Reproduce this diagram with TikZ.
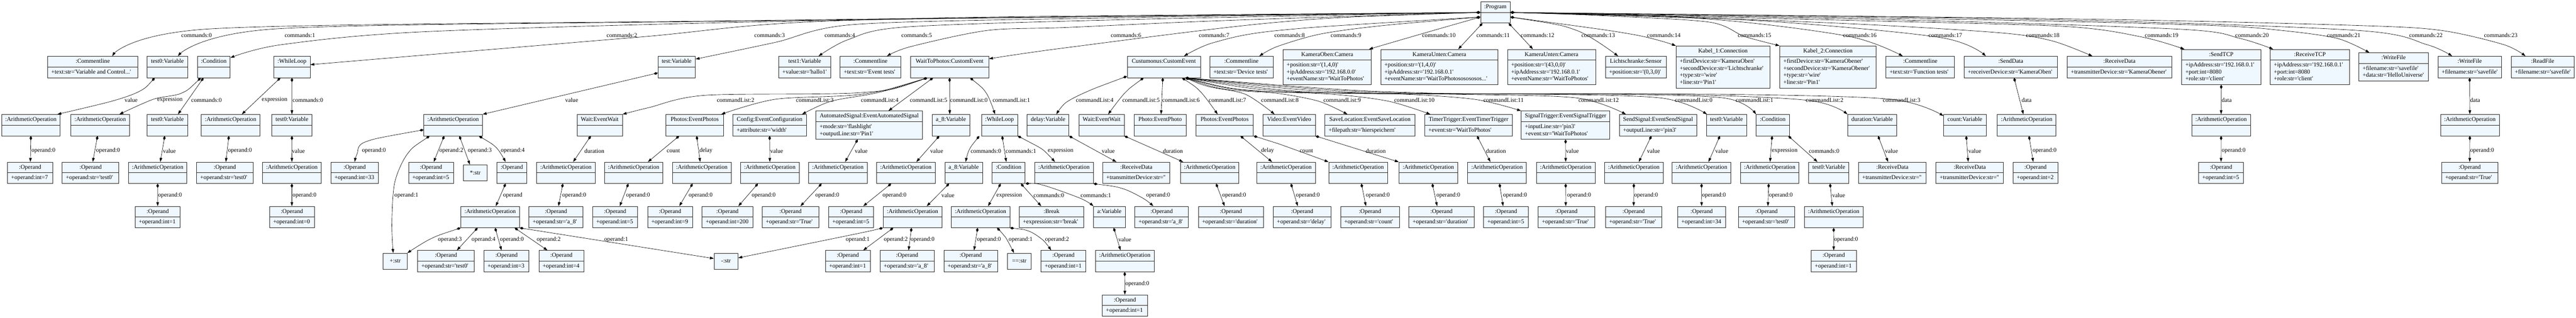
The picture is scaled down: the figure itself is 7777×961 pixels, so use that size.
\documentclass[tikz,border=0pt]{standalone}
\usepackage{fontspec}
\usepackage{tikz}
\usetikzlibrary{arrows.meta}
\usetikzlibrary{calc}
\usetikzlibrary{shapes.multipart}
\newfontfamily\gvfont{Liberation Serif}
\definecolor{gvfill}{HTML}{F0F8FF}
\newcommand{\gvs}{\rule[-2.9pt]{0pt}{10pt}}
\newcommand{\gvarith}{\gvs:ArithmeticOperation\nodepart{two}\gvs}
\newcommand{\gvoperand}[1]{\gvs:Operand\nodepart{two}\gvs+operand:#1}
\newcommand{\gvrecv}{\gvs:ReceiveData\nodepart{two}\gvs+transmitterDevice:str=''}
\tikzset{obj/.style = {draw=black!85, line width=0.6pt, fill=gvfill,
                       rectangle split, rectangle split parts=2,
                       rectangle split part align={center,left}, align=left,
                       inner xsep=5.5pt, inner ysep=2.75pt,
                       font=\gvfont\fontsize{9}{10.5}\selectfont}}
\tikzset{bw/.style = {minimum width=#1*0.5pt}}
\tikzset{strbox/.style = {draw=black!85, line width=0.6pt, fill=gvfill,
                          minimum width=36pt, minimum height=24pt, inner sep=0pt,
                          font=\gvfont\fontsize{9}{10.5}\selectfont}}
\tikzset{lbl/.style = {anchor=west, inner sep=0pt,
                       font=\gvfont\fontsize{9}{10.5}\selectfont}}
\tikzset{comp/.style = {line width=0.5pt,
                        {Diamond[length=6.5pt,width=4pt]}-{Triangle[length=6pt,width=4pt]}}}

\begin{document}
\begin{tikzpicture}[x=0.5pt, y=-0.5pt]
    \useasboundingbox (0,0) rectangle (7777,961);

    \node [obj, bw=89] (prog) at (4514.5,37.5) {\gvs:Program\nodepart{two}\gvs};

    \node [obj, bw=272] (c0) at (280,202.5) {\gvs:Commentline\nodepart{two}\gvs+text:str='Variable and Control...'};
    \node [obj, bw=121.5] (c1) at (505.3,202.5) {\gvs test0:Variable\nodepart{two}\gvs};
    \node [obj, bw=99.4] (c2) at (645.3,202.5) {\gvs:Condition\nodepart{two}\gvs};
    \node [obj, bw=109.8] (c3) at (881.4,202.5) {\gvs:WhileLoop\nodepart{two}\gvs};
    \node [obj, bw=112.8] (c4) at (2042.9,202.5) {\gvs test:Variable\nodepart{two}\gvs};
    \node [obj, bw=156.6] (c5) at (2429.3,202.5) {\gvs test1:Variable\nodepart{two}\gvs+value:str='hallo1'};
    \node [obj, bw=182.4] (c6) at (2627.8,202.5) {\gvs:Commentline\nodepart{two}\gvs+text:str='Event tests'};
    \node [obj, bw=236.4] (c7) at (2866.8,202.5) {\gvs WaitToPhotos:CustomEvent\nodepart{two}\gvs};
    \node [obj, bw=221] (c8) at (3513.5,202.5) {\gvs Custumonus:CustomEvent\nodepart{two}\gvs};
    \node [obj, bw=191.6] (c9) at (3747.8,202.5) {\gvs:Commentline\nodepart{two}\gvs+text:str='Device tests'};
    \node [obj, bw=266.5] (c10) at (4006.8,202.5) {\gvs KameraOben:Camera\nodepart{two}\gvs+position:str='(1,4,0)'\\\gvs+ipAddress:str='192.168.0.0'\\\gvs+eventName:str='WaitToPhotos'};
    \node [obj, bw=353.4] (c11) at (4345.3,202.5) {\gvs KameraUnten:Camera\nodepart{two}\gvs+position:str='(1,4,0)'\\\gvs+ipAddress:str='192.168.0.1'\\\gvs+eventName:str='WaitToPhotososososos...'};
    \node [obj, bw=266] (c12) at (4684,202.5) {\gvs KameraUnten:Camera\nodepart{two}\gvs+position:str='(43,0,0)'\\\gvs+ipAddress:str='192.168.0.1'\\\gvs+eventName:str='WaitToPhotos'};
    \node [obj, bw=183] (c13) at (4938.5,202.5) {\gvs Lichtschranke:Sensor\nodepart{two}\gvs+position:str='(0,3,0)'};
    \node [obj, bw=283] (c14) at (5201.5,202.5) {\gvs Kabel\_1:Connection\nodepart{two}\gvs+firstDevice:str='KameraOben'\\\gvs+secondDevice:str='Lichtschranke'\\\gvs+type:str='wire'\\\gvs+line:str='Pin1'};
    \node [obj, bw=291] (c15) at (5518.5,202.5) {\gvs Kabel\_2:Connection\nodepart{two}\gvs+firstDevice:str='KameraObener'\\\gvs+secondDevice:str='KameraObener'\\\gvs+type:str='wire'\\\gvs+line:str='Pin1'};
    \node [obj, bw=206.7] (c16) at (5797.4,202.5) {\gvs:Commentline\nodepart{two}\gvs+text:str='Function tests'};
    \node [obj, bw=281] (c17) at (6070.5,202.5) {\gvs:SendData\nodepart{two}\gvs+receiverDevice:str='KameraOben'};
    \node [obj, bw=315] (c18) at (6398.5,202.5) {\gvs:ReceiveData\nodepart{two}\gvs+transmitterDevice:str='KameraObener'};
    \node [obj, bw=238.5] (c19) at (6705.8,202.5) {\gvs:SendTCP\nodepart{two}\gvs+ipAddress:str='192.168.0.1'\\\gvs+port:int=8080\\\gvs+role:str='client'};
    \node [obj, bw=239] (c20) at (6973.5,202.5) {\gvs:ReceiveTCP\nodepart{two}\gvs+ipAddress:str='192.168.0.1'\\\gvs+port:int=8080\\\gvs+role:str='client'};
    \node [obj, bw=209.4] (c21) at (7226.3,202.5) {\gvs:WriteFile\nodepart{two}\gvs+filename:str='savefile'\\\gvs+data:str='HelloUniverse'};
    \node [obj, bw=190.3] (c22) at (7455.9,202.5) {\gvs:WriteFile\nodepart{two}\gvs+filename:str='savefile'};
    \node [obj, bw=190.5] (c23) at (7676.3,202.5) {\gvs:ReadFile\nodepart{two}\gvs+filename:str='savefile'};

    \node [obj, bw=176.4] (a1) at (93.2,378.3) {\gvarith};
    \node [obj, bw=177] (a2) at (302.5,378.3) {\gvarith};
    \node [obj, bw=121.5] (a3) at (505.3,378.3) {\gvs test0:Variable\nodepart{two}\gvs};
    \node [obj, bw=176] (a4) at (696,378.3) {\gvarith};
    \node [obj, bw=121.4] (a5) at (881.3,378.3) {\gvs test0:Variable\nodepart{two}\gvs};
    \node [obj, bw=176] (a6) at (1368,378.3) {\gvarith};
    \node [obj, bw=137] (a7) at (1810.5,378.3) {\gvs Wait:EventWait\nodepart{two}\gvs};
    \node [obj, bw=173.5] (a8) at (2097.3,378.3) {\gvs Photos:EventPhotos\nodepart{two}\gvs};
    \node [obj, bw=221] (a9) at (2323.5,378.3) {\gvs Config:EventConfiguration\nodepart{two}\gvs+attribute:str='width'};
    \node [obj, bw=321.6] (a10) at (2624.2,378.3) {\gvs AutomatedSignal:EventAutomatedSignal\nodepart{two}\gvs+mode:str='flashlight'\\\gvs+outputLine:str='Pin1'};
    \node [obj, bw=113.5] (a11) at (2870.8,378.3) {\gvs a\_8:Variable\nodepart{two}\gvs};
    \node [obj, bw=109] (a12) at (3017.5,378.3) {\gvs:WhileLoop\nodepart{two}\gvs};
    \node [obj, bw=126] (a13) at (3164,378.3) {\gvs delay:Variable\nodepart{two}\gvs};
    \node [obj, bw=137] (a14) at (3325.5,378.3) {\gvs Wait:EventWait\nodepart{two}\gvs};
    \node [obj, bw=157.5] (a15) at (3502.3,378.3) {\gvs Photo:EventPhoto\nodepart{two}\gvs};
    \node [obj, bw=174] (a16) at (3697,378.3) {\gvs Photos:EventPhotos\nodepart{two}\gvs};
    \node [obj, bw=157.8] (a17) at (3892,378.3) {\gvs Video:EventVideo\nodepart{two}\gvs};
    \node [obj, bw=272] (a18) at (4136,378.3) {\gvs SaveLocation:EventSaveLocation\nodepart{two}\gvs+filepath:str='hierspeichern'};
    \node [obj, bw=263.4] (a19) at (4433.3,378.3) {\gvs TimerTrigger:EventTimerTrigger\nodepart{two}\gvs+event:str='WaitToPhotos'};
    \node [obj, bw=265] (a20) at (4726.5,378.3) {\gvs SignalTrigger:EventSignalTrigger\nodepart{two}\gvs+inputLine:str='pin3'\\\gvs+event:str='WaitToPhotos'};
    \node [obj, bw=233] (a21) at (5005.5,378.3) {\gvs SendSignal:EventSendSignal\nodepart{two}\gvs+outputLine:str='pin3'};
    \node [obj, bw=120.5] (a22) at (5212.3,378.3) {\gvs test0:Variable\nodepart{two}\gvs};
    \node [obj, bw=100] (a23) at (5352,378.3) {\gvs:Condition\nodepart{two}\gvs};
    \node [obj, bw=148] (a24) at (5652,378.3) {\gvs duration:Variable\nodepart{two}\gvs};
    \node [obj, bw=128] (a25) at (5932,378.3) {\gvs count:Variable\nodepart{two}\gvs};
    \node [obj, bw=177] (a26) at (6118.5,378.3) {\gvarith};
    \node [obj, bw=177] (a27) at (6705.5,378.3) {\gvarith};
    \node [obj, bw=177] (a28) at (7456.5,378.3) {\gvarith};

    \node [obj, bw=136] (b1) at (90.7,522.3) {\gvoperand{int=7}};
    \node [obj, bw=171] (b2) at (273.5,522.3) {\gvoperand{str='test0'}};
    \node [obj, bw=176.3] (b3) at (475.9,522.3) {\gvarith};
    \node [obj, bw=170.5] (b4) at (678.8,522.3) {\gvoperand{str='test0'}};
    \node [obj, bw=176.8] (b5) at (881.2,522.3) {\gvarith};
    \node [obj, bw=144.4] (b6) at (1070.8,522.3) {\gvoperand{int=33}};
    \node [obj, bw=135.5] (b7) at (1301.3,522.3) {\gvoperand{int=5}};
    \node [strbox] (b8) at (1434.7,522.3) {*:str};
    \node [obj, bw=90.6] (b9) at (1545.3,522.3) {\gvs:Operand\nodepart{two}\gvs};
    \node [obj, bw=176.5] (b10) at (1708.3,522.3) {\gvarith};
    \node [obj, bw=176] (b11) at (1913,522.3) {\gvarith};
    \node [obj, bw=176.3] (b12) at (2118.9,522.3) {\gvarith};
    \node [obj, bw=176.8] (b13) at (2324.1,522.3) {\gvarith};
    \node [obj, bw=176.7] (b14) at (2529.4,522.3) {\gvarith};
    \node [obj, bw=177] (b15) at (2734.5,522.3) {\gvarith};
    \node [obj, bw=113.5] (b16) at (2909.3,522.3) {\gvs a\_8:Variable\nodepart{two}\gvs};
    \node [obj, bw=100] (b17) at (3045,522.3) {\gvs:Condition\nodepart{two}\gvs};
    \node [obj, bw=176] (b18) at (3212,522.3) {\gvarith};
    \node [obj, bw=203] (b19) at (3430.5,522.3) {\gvrecv};
    \node [obj, bw=176] (b20) at (3652,522.3) {\gvarith};
    \node [obj, bw=176.8] (b21) at (3882.4,522.3) {\gvarith};
    \node [obj, bw=176] (b22) at (4100,522.3) {\gvarith};
    \node [obj, bw=176] (b23) at (4312,522.3) {\gvarith};
    \node [obj, bw=177] (b24) at (4519.5,522.3) {\gvarith};
    \node [obj, bw=176.5] (b25) at (4726.8,522.3) {\gvarith};
    \node [obj, bw=177] (b26) at (4932.5,522.3) {\gvarith};
    \node [obj, bw=176] (b27) at (5137,522.3) {\gvarith};
    \node [obj, bw=176.6] (b28) at (5342.7,522.3) {\gvarith};
    \node [obj, bw=122] (b29) at (5521,522.3) {\gvs test0:Variable\nodepart{two}\gvs};
    \node [obj, bw=204] (b30) at (5713,522.3) {\gvrecv};
    \node [obj, bw=203.8] (b31) at (5946.6,522.3) {\gvrecv};
    \node [obj, bw=135.5] (b32) at (6145.3,522.3) {\gvoperand{int=2}};
    \node [obj, bw=135.5] (b33) at (6705.3,522.3) {\gvoperand{int=5}};
    \node [obj, bw=170] (b34) at (7456,522.3) {\gvoperand{str='True'}};

    \node [obj, bw=136] (d1) at (476,656) {\gvoperand{int=1}};
    \node [obj, bw=135.6] (d2) at (881.2,656) {\gvoperand{int=0}};
    \node [obj, bw=176.5] (d3) at (1479.8,656) {\gvarith};
    \node [obj, bw=163] (d4) at (1678.5,656) {\gvoperand{str='a\_8'}};
    \node [obj, bw=136] (d5) at (1857,656) {\gvoperand{int=5}};
    \node [obj, bw=135.5] (d6) at (2022.8,656) {\gvoperand{int=9}};
    \node [obj, bw=153.2] (d7) at (2196.1,656) {\gvoperand{int=200}};
    \node [obj, bw=171] (d8) at (2386.5,656) {\gvoperand{str='True'}};
    \node [obj, bw=135] (d9) at (2569.5,656) {\gvoperand{int=5}};
    \node [obj, bw=176.5] (d10) at (2754.8,656) {\gvarith};
    \node [obj, bw=176] (d11) at (2960,656) {\gvarith};
    \node [obj, bw=195] (d12) at (3174.5,656) {\gvs:Break\nodepart{two}\gvs+expression:str='break'};
    \node [obj, bw=94.6] (d13) at (3349.3,656) {\gvs a:Variable\nodepart{two}\gvs};
    \node [obj, bw=162] (d14) at (3507,656) {\gvoperand{str='a\_8'}};
    \node [obj, bw=196] (d15) at (3716,656) {\gvoperand{str='duration'}};
    \node [obj, bw=174] (d16) at (3931,656) {\gvoperand{str='delay'}};
    \node [obj, bw=177.6] (d17) at (4135.8,656) {\gvoperand{str='count'}};
    \node [obj, bw=196.4] (d18) at (4351.8,656) {\gvoperand{str='duration'}};
    \node [obj, bw=135] (d19) at (4546.5,656) {\gvoperand{int=5}};
    \node [obj, bw=170] (d20) at (4729,656) {\gvoperand{str='True'}};
    \node [obj, bw=170] (d21) at (4932,656) {\gvoperand{str='True'}};
    \node [obj, bw=144.4] (d22) at (5137.2,656) {\gvoperand{int=34}};
    \node [obj, bw=170.6] (d23) at (5333.3,656) {\gvoperand{str='test0'}};
    \node [obj, bw=176.4] (d24) at (5535.8,656) {\gvarith};

    \node [strbox] (e1) at (1193,789.5) {+:str};
    \node [obj, bw=170.5] (e2) at (1346.3,789.5) {\gvoperand{str='test0'}};
    \node [obj, bw=136] (e3) at (1529,789.5) {\gvoperand{int=3}};
    \node [obj, bw=135.5] (e4) at (1694.8,789.5) {\gvoperand{int=4}};
    \node [strbox] (e5) at (2191.9,789.5) {-:str};
    \node [obj, bw=135] (e6) at (2559.5,789.5) {\gvoperand{int=1}};
    \node [obj, bw=163] (e7) at (2738.5,789.5) {\gvoperand{str='a\_8'}};
    \node [obj, bw=162.1] (e8) at (2930.7,789.5) {\gvoperand{str='a\_8'}};
    \node [strbox] (e9) at (3077.3,789.5) {==:str};
    \node [obj, bw=135] (e10) at (3210.5,789.5) {\gvoperand{int=1}};
    \node [obj, bw=177] (e11) at (3395.5,789.5) {\gvarith};
    \node [obj, bw=136] (e12) at (5536,789.5) {\gvoperand{int=1}};

    \node [obj, bw=136] (f1) at (3396,923.7) {\gvoperand{int=1}};

    \draw [comp] plot [smooth] coordinates {(prog.west) (2198,63) (639,87) ($(c0.north)+(59,0)$)};
    \draw [comp] plot [smooth] coordinates {(prog.west) (2306,63) (837,87) ($(c1.north)+(32,0)$)};
    \draw [comp] plot [smooth] coordinates {(prog.west) (2500,62) (1300,95) (850,135) ($(c2.north east)+(0,5)$)};
    \draw [comp] plot [smooth] coordinates {(prog.west) (2580,61) (1920,113) ($(c3.east)+(0,-7)$)};
    \draw [comp] plot [smooth] coordinates {(prog.west) (3300,55) (2580,74) (2341,128) ($(c4.north east)+(0,9)$)};
    \draw [comp] plot [smooth] coordinates {(prog.west) (3371,60) (2728,82) (2560,120) ($(c5.north)+(42,0)$)};
    \draw [comp] plot [smooth] coordinates {(prog.west) (3700,62) (3220,83) (2981,92) (2749,141) ($(c6.north)+(50,0)$)};
    \draw [comp] plot [smooth] coordinates {(prog.west) (3860,67) (3220,144) ($(c7.north east)+(0,8)$)};
    \draw [comp] plot [smooth] coordinates {($(prog.west)+(0,14)$) (3860,92) (3663,129) ($(c8.north)+(61,0)$)};
    \draw [comp] plot [smooth] coordinates {($(prog.west)+(0,14)$) (4150,80) (3981,104) (3855,141) ($(c9.north)+(54,0)$)};
    \draw [comp] plot [smooth] coordinates {($(prog.west)+(0,14)$) (4300,100) ($(c10.north)+(126,0)$)};
    \draw [comp] ($(prog.south west)+(6,0)$) -- ($(c11.north)+(57,0)$);
    \draw [comp] ($(prog.south east)+(-5,0)$) -- ($(c12.north)+(-56,0)$);
    \draw [comp] plot [smooth] coordinates {($(prog.east)+(0,14)$) (4760,92) ($(c13.north)+(-53.5,0)$)};
    \draw [comp] plot [smooth] coordinates {($(prog.east)+(0,14)$) (4929,104) (c14.north west)};
    \draw [comp] plot [smooth] coordinates {(prog.east) (4850,48) (5161,67) (5266,110) (c15.north west)};
    \draw [comp] plot [smooth] coordinates {(prog.east) (5161,58) (5582,110) ($(c16.north)+(-53,0)$)};
    \draw [comp] plot [smooth] coordinates {(prog.east) (5300,62) (5856,113) ($(c17.north)+(-75.5,0)$)};
    \draw [comp] plot [smooth] coordinates {(prog.east) (5500,68) (6024,98) (6193,123) ($(c18.north)+(-81.5,0)$)};
    \draw [comp] plot [smooth] coordinates {(prog.east) (5600,62) (6235,80) (6467,112) ($(c19.north)+(-111,0)$)};
    \draw [comp] plot [smooth] coordinates {(prog.east) (5800,62) (6593,89) (6762,116) ($(c20.north)+(-110.5,0)$)};
    \draw [comp] plot [smooth] coordinates {(prog.east) (6000,60) (6677,77) (6888,92) (7056,116) ($(c21.north)+(-73,0)$)};
    \draw [comp] plot [smooth] coordinates {(prog.east) (6200,60) (7117,92) (7327,135) ($(c22.north)+(-53,0)$)};
    \draw [comp] plot [smooth] coordinates {(prog.east) (6300,58) (7117,77) (7370,92) (7559,135) ($(c23.north)+(-52,0)$)};

    \draw [comp] plot [smooth] coordinates {($(c1.south)+(-38,0)$) (421,276) (337,306) ($(a1.north)+(80,0)$)};
    \draw [comp] plot [smooth] coordinates {($(c2.south)+(-39,0)$) (547,282) (463,300) ($(a2.north)+(58,0)$)};
    \draw [comp] ($(c2.south)+(-31,0)$) -- ($(a3.north)+(32,0)$);
    \draw [comp] ($(c3.south)+(-35,0)$) -- ($(a4.north)+(34,0)$);
    \draw [comp] (c3.south) -- (a5.north);
    \draw [comp] ($(c4.west)+(0,18)$) -- (a6.north east);
    \draw [comp] plot [smooth] coordinates {($(c7.south)+(-67,0)$) (2600,280) (2130,288) (1960,325) (a7.north east)};
    \draw [comp] plot [smooth] coordinates {($(c7.south)+(-67,0)$) (2600,285) (2341,300) ($(a8.north)+(80,0)$)};
    \draw [comp] plot [smooth] coordinates {($(c7.south)+(-67,0)$) (2650,280) (2509,306) ($(a9.north)+(98,0)$)};
    \draw [comp] ($(c7.south)+(-50,0)$) -- ($(a10.north)+(58,0)$);
    \draw [comp] (c7.south) -- ($(a11.north)+(-3.5,0)$);
    \draw [comp] plot [smooth] coordinates {($(c7.south)+(62,0)$) (2978,282) ($(a12.north)+(-13.5,0)$)};
    \draw [comp] plot [smooth] coordinates {($(c8.west)+(0,28)$) (3284,276) (3218,310) ($(a13.north)+(25,0)$)};
    \draw [comp] plot [smooth] coordinates {($(c8.south)+(-61,0)$) (3395,282) ($(a14.north)+(20,0)$)};
    \draw [comp] ($(c8.south)+(-3,0)$) -- ($(a15.north)+(3,0)$);
    \draw [comp] plot [smooth] coordinates {($(c8.south)+(55,0)$) (3625,278) ($(a16.north)+(-21,0)$)};
    \draw [comp] plot [smooth] coordinates {($(c8.south)+(65,0)$) (3650,262) (3760,285) ($(a17.north)+(-44,0)$)};
    \draw [comp] plot [smooth] coordinates {($(c8.south)+(65,0)$) (3700,270) (3855,282) (3981,306) ($(a18.north)+(-68,0)$)};
    \draw [comp] plot [smooth] coordinates {($(c8.south)+(65,0)$) (3750,272) (4023,285) (4192,306) ($(a19.north)+(-115,0)$)};
    \draw [comp] plot [smooth] coordinates {($(c8.south)+(65,0)$) (3800,275) (4200,283) (4450,300) (a20.north west)};
    \draw [comp] plot [smooth] coordinates {($(c8.south)+(65,0)$) (3900,277) (4400,285) (4760,296) ($(a21.north)+(-97,0)$)};
    \draw [comp] plot [smooth] coordinates {($(c8.south)+(65,0)$) (4000,280) (4600,284) (5013,296) ($(a22.north west)+(2,0)$)};
    \draw [comp] plot [smooth] coordinates {($(c8.south)+(65,0)$) (4100,280) (4800,284) (5203,296) (a23.north west)};
    \draw [comp] plot [smooth] coordinates {($(c8.south)+(65,0)$) (4200,280) (5000,284) (5456,303) (a24.north west)};
    \draw [comp] plot [smooth] coordinates {($(c8.south)+(65,0)$) (4300,281) (5200,285) (5708,300) ($(a25.north west)+(0,5)$)};
    \draw [comp] ($(c17.south)+(10,0)$) -- ($(a26.north)+(-10,0)$);
    \draw [comp] (c19.south) -- (a27.north);
    \draw [comp] (c22.south) -- (a28.north);

    \draw [comp] (a1.south) -- ($(b1.north)+(1,0)$);
    \draw [comp] ($(a2.south)+(-8,0)$) -- ($(b2.north)+(6.5,0)$);
    \draw [comp] ($(a3.south)+(-8,0)$) -- ($(b3.north)+(8,0)$);
    \draw [comp] ($(a4.south)+(-5,0)$) -- ($(b4.north)+(3,0)$);
    \draw [comp] (a5.south) -- (b5.north);
    \draw [comp] plot [smooth] coordinates {($(a6.west)+(0,14)$) (1103,429) (1078,465) (b6.north)};
    \draw [comp] plot [smooth] coordinates {($(a6.south)+(-71,0)$) (1229.5,466) (1191.6,552) (1183,674) ($(e1.north)+(-6,0)$)};
    \draw [comp] ($(a6.south)+(-27,0)$) -- ($(b7.north)+(8,0)$);
    \draw [comp] ($(a6.south)+(19,0)$) -- ($(b8.north)+(-16,0)$);
    \draw [comp] plot [smooth] coordinates {($(a6.south)+(78,0)$) (1499,447) ($(b9.north)+(-19,0)$)};
    \draw [comp] ($(a7.south)+(-27,0)$) -- ($(b10.north)+(22,0)$);
    \draw [comp] ($(a8.south)+(-47,0)$) -- ($(b11.north)+(43,0)$);
    \draw [comp] ($(a8.south)+(6,0)$) -- ($(b12.north)+(-5,0)$);
    \draw [comp] (a9.south) -- (b13.north);
    \draw [comp] ($(a10.south)+(-35,0)$) -- ($(b14.north)+(22,0)$);
    \draw [comp] ($(a11.south)+(-35,0)$) -- ($(b15.north)+(32,0)$);
    \draw [comp] plot [smooth] coordinates {($(a12.south)+(-61,0)$) (2926,453) ($(b16.north)+(6,0)$)};
    \draw [comp] ($(a12.south)+(8,0)$) -- ($(b17.north)+(-7,0)$);
    \draw [comp] plot [smooth] coordinates {(a12.south east) (3107,429) (3149,453) ($(b18.north)+(-27,0)$)};
    \draw [comp] (a13.south east) -- ($(b19.north)+(-60,0)$);
    \draw [comp] (a14.south east) -- ($(b20.north)+(-80,0)$);
    \draw [comp] ($(a16.south)+(48,0)$) -- ($(b21.north)+(-42,0)$);
    \draw [comp] plot [smooth] coordinates {(a16.south east) (3858,434) (b22.north west)};
    \draw [comp] (a17.south east) -- (b23.north west);
    \draw [comp] ($(a19.south)+(26,0)$) -- ($(b24.north)+(-20,0)$);
    \draw [comp] (a20.south) -- (b25.north);
    \draw [comp] ($(a21.south)+(-20,0)$) -- ($(b26.north)+(15,0)$);
    \draw [comp] ($(a22.south)+(-20,0)$) -- ($(b27.north)+(21,0)$);
    \draw [comp] ($(a23.south)+(-2,0)$) -- ($(b28.north)+(1,0)$);
    \draw [comp] ($(a23.south)+(47,0)$) -- ($(b29.north)+(-34,0)$);
    \draw [comp] ($(a24.south)+(18,0)$) -- ($(b30.north)+(-13,0)$);
    \draw [comp] ($(a25.south)+(4,0)$) -- ($(b31.north)+(-4.6,0)$);
    \draw [comp] ($(a26.south)+(7,0)$) -- ($(b32.north)+(-7,0)$);
    \draw [comp] (a27.south) -- (b33.north);
    \draw [comp] (a28.south) -- (b34.north);

    \draw [comp] (b3.south) -- (d1.north);
    \draw [comp] (b5.south) -- (d2.north);
    \draw [comp] ($(b9.south)+(-19,0)$) -- ($(d3.north)+(17,0)$);
    \draw [comp] ($(b10.south)+(-9,0)$) -- ($(d4.north)+(7.5,0)$);
    \draw [comp] ($(b11.south)+(-16,0)$) -- ($(d5.north)+(14,0)$);
    \draw [comp] ($(b12.south)+(-28,0)$) -- ($(d6.north)+(28,0)$);
    \draw [comp] ($(b13.south)+(-36,0)$) -- ($(d7.north)+(33,0)$);
    \draw [comp] ($(b14.south)+(-49,0)$) -- ($(d8.north)+(30,0)$);
    \draw [comp] ($(b15.south)+(-44,0)$) -- ($(d9.north)+(36.5,0)$);
    \draw [comp] ($(b16.south)+(-44,0)$) -- ($(d10.north)+(43,0)$);
    \draw [comp] ($(b17.south)+(-24,0)$) -- ($(d11.north)+(23,0)$);
    \draw [comp] ($(b17.south)+(37,0)$) -- ($(d12.north)+(-31,0)$);
    \draw [comp] plot [smooth] coordinates {(b17.south east) (3150,560) (3263,600) (d13.north west)};
    \draw [comp] plot [smooth] coordinates {(b18.south east) (3389,570) (3452,600) ($(d14.north)+(-25,0)$)};
    \draw [comp] ($(b20.south)+(19.5,0)$) -- ($(d15.north)+(-19,0)$);
    \draw [comp] ($(b21.south)+(15,0)$) -- ($(d16.north)+(-13,0)$);
    \draw [comp] ($(b22.south)+(10,0)$) -- ($(d17.north)+(-12,0)$);
    \draw [comp] ($(b23.south)+(12,0)$) -- ($(d18.north)+(-13,0)$);
    \draw [comp] ($(b24.south)+(7.5,0)$) -- ($(d19.north)+(-8.5,0)$);
    \draw [comp] (b25.south) -- ($(d20.north)+(-2,0)$);
    \draw [comp] (b26.south) -- (d21.north);
    \draw [comp] (b27.south) -- (d22.north);
    \draw [comp] ($(b28.south)+(-3,0)$) -- ($(d23.north)+(4,0)$);
    \draw [comp] ($(b29.south)+(4,0)$) -- ($(d24.north)+(-4,0)$);

    \draw [comp] plot [smooth] coordinates {(d3.south west) (1300,722) (e1.north east)};
    \draw [comp] ($(d3.south)+(-38,0)$) -- ($(e2.north)+(33,0)$);
    \draw [comp] ($(d3.south)+(15,0)$) -- ($(e3.north)+(-15,0)$);
    \draw [comp] ($(d3.south)+(74,0)$) -- ($(e4.north)+(-42,0)$);
    \draw [comp] (d3.south east) -- ($(e5.west)+(0,-8)$);
    \draw [comp] plot [smooth] coordinates {(d10.south west) (2570,710) ($(e5.east)+(0,-10)$)};
    \draw [comp] ($(d10.south)+(-58,0)$) -- ($(e6.north)+(46.5,0)$);
    \draw [comp] ($(d10.south)+(-3,0)$) -- ($(e7.north)+(4.5,0)$);
    \draw [comp] ($(d11.south)+(-8.5,0)$) -- ($(e8.north)+(10,0)$);
    \draw [comp] plot [smooth] coordinates {($(d11.south)+(50,0)$) (3035.6,717) ($(e9.north)+(-16,0)$)};
    \draw [comp] plot [smooth] coordinates {(d11.south east) (3107,699) (3149,726) ($(e10.north)+(-37,0)$)};
    \draw [comp] ($(d13.south)+(13,0)$) -- ($(e11.north)+(-12.5,0)$);
    \draw [comp] (d24.south) -- (e12.north);
    \draw [comp] (e11.south) -- (f1.north);

    \foreach \i/\x in {0/547,1/859,2/1831,3/2277,4/2489,5/2721,6/3353,7/3619,8/3847,9/4017,10/4293,11/4457,
                       12/4591,13/4774,14/4972,15/5246,16/5564,17/5822,18/6116,19/6475,20/6748,21/7025,22/7273,23/7499}
        \node [lbl] (lc\i) at (\x,106) {commands:\i};
    \foreach \i/\x [count=\n] in {2/2164,3/2403,4/2599,5/2746.5,0/2868,1/2996.5,4/3248,5/3388,6/3508.5,7/3648.7,
                                  8/3807,9/3995,10/4208.6,11/4478,12/4765,0/5056.5,1/5240,2/5451.5,3/5684}
        \node [lbl] (ll\n) at (\x,302) {commandList:\i};
    \foreach \x/\y/\t [count=\n] in {376/302/value, 474/302/expression, 577/302/commands:0, 790/302/expression,
            883/302/commands:0, 1706/302/value, 6103/302/data, 6707/302/data, 7457/302/data,
            94.7/456/operand:0, 290/456/operand:0, 491.6/456/value, 688/456/operand:0, 881/456/value,
            1092.5/456/operand:0, 1326/456/operand:2, 1412/456/operand:3, 1511.5/456/operand:4, 1764/456/duration,
            2012.6/456/count, 2111.5/456/delay, 2325/456/value, 2580/456/value, 2808/456/value, 2930/456/commands:0,
            3035.6/456/commands:1, 3163/456/expression, 3326/456/value, 3510.6/456/duration, 3807/456/delay,
            3923.6/456/count, 4123/456/duration, 4486/456/duration, 4727/456/value, 4972/456/value, 5178/456/value,
            5349/456/expression, 5460.7/456/commands:0, 5690.5/456/value, 5942/456/value, 6136/456/operand:0,
            6707/456/operand:0, 7457/456/operand:0,
            477/591/operand:0, 883/591/operand:0, 1190.6/591/operand:1, 1518.7/591/operand, 1697/591/operand:0,
            1890/591/operand:0, 2079/591/operand:0, 2269/591/operand:0, 2461/591/operand:0, 2664/591/operand:0,
            2842/591/value, 3008/591/expression, 3120/591/commands:0, 3262/591/commands:1, 3460/591/operand:0,
            3689.5/591/operand:0, 3912/591/operand:0, 4123/591/operand:0, 4336/591/operand:0, 4537.5/591/operand:0,
            4731/591/operand:0, 4933/591/operand:0, 5138/591/operand:0, 5340/591/operand:0, 5531/591/value,
            1322/724/operand:3, 1423.5/724/operand:4, 1509/724/operand:0, 1620/724/operand:2, 1824/724/operand:1,
            2553/724/operand:1, 2668/724/operand:2, 2749/724/operand:0, 2949/724/operand:0, 3045/724/operand:1,
            3155/724/operand:2, 3376/724/value, 5537/724/operand:0,
            3397/858/operand:0}
        \node [lbl] (le\n) at (\x,\y) {\t};
  \end{tikzpicture}
\end{document}
